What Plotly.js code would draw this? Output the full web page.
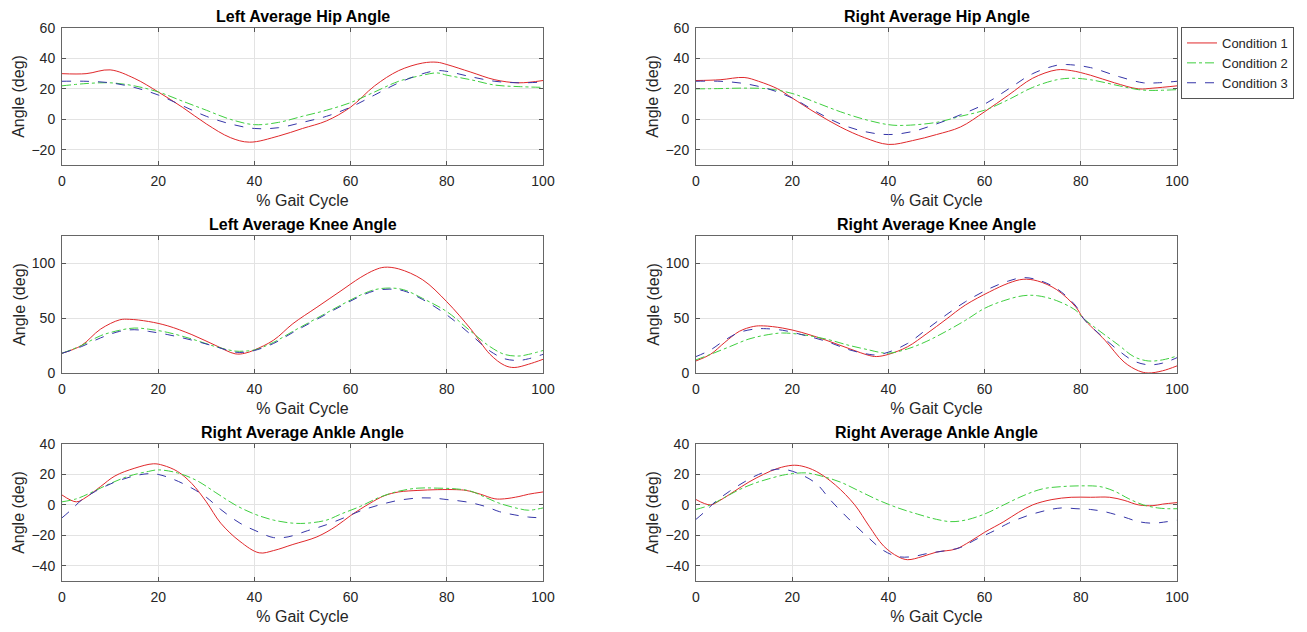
<!DOCTYPE html>
<html>
<head>
<meta charset="utf-8">
<script src="https://cdn.plot.ly/plotly-3.0.1.min.js"></script>
<style>html,body{margin:0;padding:0;background:#fff;}#chart{width:1307px;height:632px;}</style>
</head>
<body>
<div id="chart"></div>
<script>
// ---------- Data ----------
const seriesNames = ["Condition 1", "Condition 2", "Condition 3"];
const plotTitles = ["Left Average Hip Angle", "Right Average Hip Angle", "Left Average Knee Angle",
                    "Right Average Knee Angle", "Right Average Ankle Angle", "Right Average Ankle Angle"];
const xTickVals = [0, 20, 40, 60, 80, 100];

// Left hip
const lHipX1 = [0,5,10,15,20,25,30,35,39,45,50,55,60,65,70,75,78,80,85,90,95,100];
const lHipY1 = [30,30,32.5,27,18,8,-3,-12,-15,-11,-6,-1,8,22,32,37,37.5,36,31,26,24,25.5];
const lHipX2 = [0,5,10,15,20,25,30,35,40,45,50,55,60,65,70,75,78,80,85,90,95,100];
const lHipY2 = [22,23.5,24,22,18,12,6,0,-3.5,-2,2,6,11,18,25,29,30.5,29,26,22.5,21.5,21];
const lHipX3 = [0,5,10,15,20,25,30,35,40,45,50,55,60,65,70,75,78,80,85,90,95,100];
const lHipY3 = [25,25,24,21,16,9,2,-3,-6,-5.5,-2,2,8,16,24,30,32,31.5,28,25,24,24.5];

// Right hip
const rHipX1 = [0,5,10,13,17,20,25,30,35,40,45,50,55,60,65,70,75,78,82,87,92,95,100];
const rHipY1 = [25.5,26,27.5,25,20,14,4,-5,-12,-16.5,-14,-10,-5,5,16,27,32.5,32,29,24,20,20.5,22];
const rHipX2 = [0,5,10,15,20,25,30,35,40,43,50,55,60,65,70,75,78,82,88,92,95,100];
const rHipY2 = [20,20.2,20.5,20,17,11,5,0,-3.5,-4,-2,2,6,13,21,26,27,26,22,19.5,19,19.5];
const rHipX3 = [0,5,10,15,20,25,30,35,40,45,50,55,60,65,70,75,77,82,88,93,96,100];
const rHipY3 = [25,25,23.5,20,14,5,-3,-8,-10,-8,-3,3,10,20,30,35.5,36,34,28,24,24,25];

// Left knee
const lKneeX1 = [0,4,8,12,14,18,22,27,32,36,38,40,44,48,53,58,62,65,67,70,75,80,85,89,92,94,97,100];
const lKneeY1 = [18,25,40,48.5,49,47,43,35,25,17.5,18,21,30,45,60,75,87,94,96.5,95,85,65,40,17,7,5,8,12.5];
const lKneeX2 = [0,4,8,12,15,18,22,27,32,36,38,40,44,48,53,58,62,65,68,71,75,80,85,89,92,95,97,100];
const lKneeY2 = [18,25,34,39,41,40,37,31,24,20,20,21,28,38,50,62,71,76,77.5,76,68,56,38,24,17,15.5,17,20.5];
const lKneeX3 = [0,4,8,12,15,18,22,27,32,36,38,40,44,48,53,58,62,65,68,71,75,80,85,89,92,95,97,100];
const lKneeY3 = [18,24,32,38,39.5,38,35,30,24,19,19,20.5,27,37,49,61,70,75,76.5,75,67,53,35,20,13,11.5,13,17];

// Right knee
const rKneeX1 = [0,3,6,9,12,14,18,22,27,32,36,37.5,40,44,48,52,56,61,65,68,71,75,79,80.5,85,89,92,94,97,100];
const rKneeY1 = [11,17,28,38,42.5,43,41,37,30,22,16,15,17,24,36,49,62,74,82,85.5,84,76,60,50,30,10,2,0,2,6.5];
const rKneeX2 = [0,3,7,11,15,18,22,27,32,36,38,40,44,48,52,56,60,64,68,71,75,79,80.5,84,88,91,94,97,100];
const rKneeY2 = [12,17,24,31,35,36.5,35,31,25,21,19,18,22,29,38,48,59,66,70.5,70.5,66,57,50,38,25,15,11,12,15.5];
const rKneeX3 = [0,3,6,9,12,14,18,22,27,32,36,37.5,40,44,48,52,56,61,65,68,71,75,79,80.5,84,88,91,94,97,100];
const rKneeY3 = [15,21,30,37,40,40.5,39,35,29,21,17,16.5,19,27,40,53,65,77,84,87,85,77,61,50,35,20,11,7.5,9,14];

// Left-column ankle (titled "Right Average Ankle Angle")
const lAnkX1 = [0,3,5,8,11,15,19,21,24,27,30,33,37,41,44,48,53,57,60,64,67,70,74,78,82,84,87,90,92,95,97,100];
const lAnkY1 = [6.5,2,5,12,19,24,27,26,22,14,2,-12,-24,-31.5,-30,-26,-21,-14,-7,1,6,8.5,9.5,10,10,9.5,7,4,4,5.5,7,8.5];
const lAnkX2 = [0,3,6,10,14,18,20,24,28,32,36,40,44,48,51,55,58,62,66,70,74,78,82,85,88,91,95,97,100];
const lAnkY2 = [2,4,8,14,19,22,23,21,16,8,0,-6,-10,-12,-12,-10,-6,-1,5,9,11,11,10.5,9,5,1,-2.5,-3.5,-2];
const lAnkX3 = [0,2,4,7,11,15,18,20,23,27,30,33,37,41,44,47,51,55,59,62,66,70,74,77,80,84,88,91,94,97,100];
const lAnkY3 = [-8.5,-3,3,9,15,19,20.5,20,17,11,5,-3,-12,-18,-21.5,-21,-17,-13,-8,-4,0,3,4.5,4.5,3.5,2,-1,-4.5,-6.5,-8,-8.5];

// Right-column ankle
const rAnkX1 = [0,3,5,8,11,14,17,20,22,25,29,33,36,39,42,44,47,50,54,57,60,64,67,70,74,78,82,86,89,92,95,97,100];
const rAnkY1 = [3.5,0,3,9,15,20,24,26,25.5,22,13,0,-14,-27,-34,-36,-34,-31,-29,-24,-18,-11,-5,0,3.5,5,5,5,3,0,-0.5,0.5,1.5];
const rAnkX2 = [0,3,6,9,12,15,18,20,23,26,30,34,38,42,46,50,53,56,60,64,68,72,76,80,84,87,90,93,96,98,100];
const rAnkY2 = [-3,0,5,10,14,17,19.5,20.5,21,19,15,9,3,-2,-6,-9.5,-11,-10,-6,0,6,10.5,12,12.5,12,9,4,0,-2,-2.5,-2.5];
const rAnkX3 = [0,2,4,7,10,13,16,18,21,25,28,32,36,39,42,45,48,52,55,58,62,65,69,73,76,79,82,85,89,92,95,98,100];
const rAnkY3 = [-9.5,-4,2,9,15,20,23,23.5,21,14,3,-10,-22,-30,-34,-34,-32,-30,-28,-23,-17,-12,-7,-3.5,-2,-2.5,-3,-4.5,-8,-11,-12,-11,-10];

const panels = [
  {x:[lHipX1,lHipX2,lHipX3], y:[lHipY1,lHipY2,lHipY3]},
  {x:[rHipX1,rHipX2,rHipX3], y:[rHipY1,rHipY2,rHipY3]},
  {x:[lKneeX1,lKneeX2,lKneeX3], y:[lKneeY1,lKneeY2,lKneeY3]},
  {x:[rKneeX1,rKneeX2,rKneeX3], y:[rKneeY1,rKneeY2,rKneeY3]},
  {x:[lAnkX1,lAnkX2,lAnkX3], y:[lAnkY1,lAnkY2,lAnkY3]},
  {x:[rAnkX1,rAnkX2,rAnkX3], y:[rAnkY1,rAnkY2,rAnkY3]}
];

// ---------- Styling ----------
const W = 1307, H = 632;
const colors = ["#e0282b", "#3fcf3f", "#3535a8"];
const dashes = ["solid", "dashdot", "dash"];
const colX = [[62, 543], [696, 1177]];
const rowY = [[28, 165], [236, 373], [444, 581]];
const yRanges = [[-30, 60], [0, 125], [-50, 40]];
const yDticks = [20, 50, 20];
const font = "Liberation Sans, Arial, sans-serif";
const txt = "#262626";

const traces = [];
const layout = {
  width: W, height: H,
  margin: {l: 0, r: 0, t: 0, b: 0},
  paper_bgcolor: "#fff", plot_bgcolor: "#fff",
  font: {family: font, size: 14, color: txt},
  showlegend: true,
  legend: {x: 1181 / W, y: 1 - 27 / H, xanchor: "left", yanchor: "top",
           bordercolor: "#555", borderwidth: 1, bgcolor: "#fff",
           font: {family: font, size: 13, color: txt},
           itemwidth: 30, tracegroupgap: 0},
  annotations: []
};

panels.forEach((p, i) => {
  const row = Math.floor(i / 2), col = i % 2;
  const ax = i === 0 ? "" : String(i + 1);
  for (let s = 0; s < 3; s++) {
    traces.push({
      x: p.x[s], y: p.y[s], type: "scatter", mode: "lines",
      name: seriesNames[s], showlegend: i === 1,
      xaxis: "x" + ax, yaxis: "y" + ax,
      line: {color: colors[s], dash: dashes[s], width: 1, shape: "spline", smoothing: 1}
    });
  }
  layout["xaxis" + ax] = {
    domain: [colX[col][0] / W, colX[col][1] / W], anchor: "y" + ax,
    range: [0, 100], tickvals: xTickVals, ticks: "inside", ticklen: 4, tickcolor: "#555",
    showgrid: true, gridcolor: "#e3e3e3", zeroline: false,
    showline: true, mirror: "ticks", linecolor: "#666", linewidth: 1,
    ticklabelstandoff: 3,
    tickfont: {family: font, size: 14, color: txt},
    title: {text: "% Gait Cycle", font: {family: font, size: 16, color: txt}, standoff: 7}
  };
  layout["yaxis" + ax] = {
    domain: [1 - rowY[row][1] / H, 1 - rowY[row][0] / H], anchor: "x" + ax,
    range: yRanges[row], dtick: yDticks[row], ticks: "inside", ticklen: 4, tickcolor: "#555",
    showgrid: true, gridcolor: "#e3e3e3", zeroline: false,
    showline: true, mirror: "ticks", linecolor: "#666", linewidth: 1,
    ticklabelstandoff: 3,
    tickfont: {family: font, size: 14, color: txt},
    title: {text: "Angle (deg)", font: {family: font, size: 16, color: txt}, standoff: 2}
  };
  layout.annotations.push({
    text: "<b>" + plotTitles[i] + "</b>", xref: "paper", yref: "paper",
    x: (colX[col][0] + colX[col][1]) / 2 / W, y: 1 - (rowY[row][0] - 12) / H,
    xanchor: "center", yanchor: "middle", showarrow: false,
    font: {family: font, size: 16, color: "#000"}
  });
});

Plotly.newPlot("chart", traces, layout, {displayModeBar: false, staticPlot: true});
</script>
</body>
</html>
